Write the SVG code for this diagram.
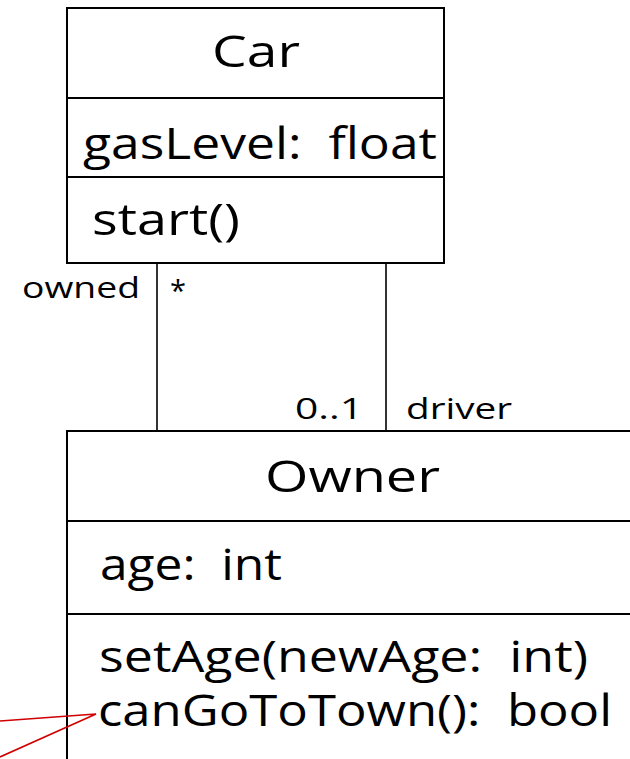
<svg xmlns="http://www.w3.org/2000/svg" width="630" height="759" viewBox="0 0 630 759">
  <style>
    .box { fill: #ffffff; stroke: #000000; stroke-width: 2; }
    .div { stroke: #000000; stroke-width: 2; }
    .big { font-family: "Open Sans", "Liberation Sans", Arial, sans-serif; font-weight: 400; font-size: 44px; fill: #000000; white-space: pre; }
    .lbl { font-family: "Open Sans", "Liberation Sans", Arial, sans-serif; font-weight: 400; font-size: 30px; fill: #000000; white-space: pre; }
    .assoc { stroke: #000000; stroke-width: 1.6; fill: none; }
    .note { stroke: #d00000; stroke-width: 1.6; fill: none; }
  </style>
  <rect width="630" height="759" fill="#ffffff"/>

  <!-- class Car -->
  <g id="car">
    <rect class="box" x="67" y="8" width="377" height="255"/>
    <line class="div" x1="67" y1="98" x2="444" y2="98"/>
    <line class="div" x1="67" y1="177" x2="444" y2="177"/>
    <text class="big" x="212" y="67" textLength="88" lengthAdjust="spacingAndGlyphs">Car</text>
    <text class="big" x="83" y="159" textLength="354" lengthAdjust="spacingAndGlyphs" xml:space="preserve">gasLevel:  float</text>
    <text class="big" x="92" y="235" textLength="148" lengthAdjust="spacingAndGlyphs">start()</text>
  </g>

  <!-- class Owner -->
  <g id="owner">
    <rect class="box" x="67" y="431" width="566" height="340"/>
    <line class="div" x1="67" y1="521" x2="633" y2="521"/>
    <line class="div" x1="67" y1="614" x2="633" y2="614"/>
    <text class="big" x="265" y="492" textLength="175" lengthAdjust="spacingAndGlyphs">Owner</text>
    <text class="big" x="100" y="580" textLength="182" lengthAdjust="spacingAndGlyphs" xml:space="preserve">age:  int</text>
    <text class="big" x="99" y="672" textLength="489" lengthAdjust="spacingAndGlyphs" xml:space="preserve">setAge(newAge:  int)</text>
    <text class="big" x="98" y="726" textLength="514" lengthAdjust="spacingAndGlyphs" xml:space="preserve">canGoToTown():  bool</text>
  </g>

  <!-- associations between Car and Owner, and the callout -->
  <g id="connectors">
    <line class="assoc" x1="157" y1="263" x2="157" y2="431"/>
    <line class="assoc" x1="386" y1="263" x2="386" y2="431"/>
    <text class="lbl" x="22" y="298" textLength="118" lengthAdjust="spacingAndGlyphs">owned</text>
    <text class="lbl" x="170" y="301" textLength="16" lengthAdjust="spacingAndGlyphs">*</text>
    <text class="lbl" x="295" y="419" textLength="68" lengthAdjust="spacingAndGlyphs">0..1</text>
    <text class="lbl" x="406" y="419" textLength="106" lengthAdjust="spacingAndGlyphs">driver</text>
    <!-- callout lines to canGoToTown() -->
    <polyline class="note" points="0,721 96,714 0,757"/>
  </g>
</svg>
